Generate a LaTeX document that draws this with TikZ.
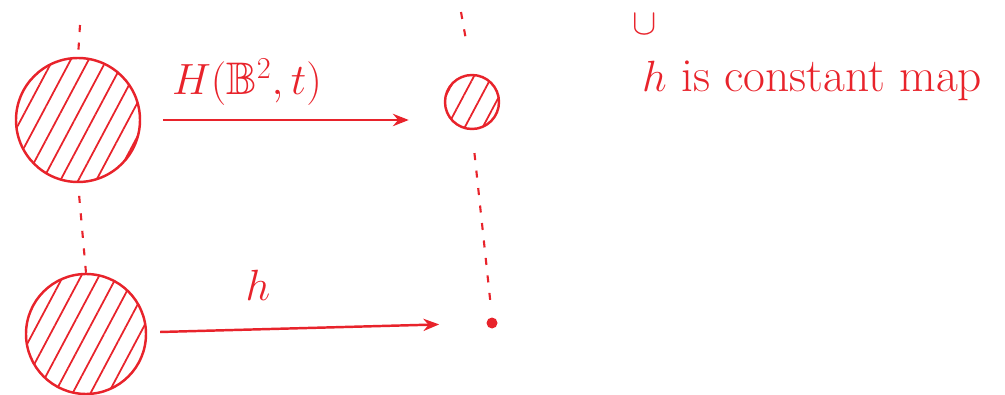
\documentclass[tikz,border=0pt]{standalone}
\usepackage{amsmath,amssymb}
\usetikzlibrary{arrows.meta,patterns.meta}
\definecolor{ink}{HTML}{E8232B}

\begin{document}
\begin{tikzpicture}[x=0.2mm,y=-0.2mm,
  ball/.style={circle,draw=ink,line width=1.4pt,inner sep=0pt,
    pattern={Lines[angle=62,distance=9pt,line width=1pt]},pattern color=ink},
  guide/.style={ink,line width=1.2pt,dash pattern=on 4pt off 6pt},
  maparrow/.style={ink,line width=1.4pt,-{Stealth[length=9pt,width=7pt]}}]
  \useasboundingbox (0,0) rectangle (1005,395);
  % the two balls on the left and their images
  \node[ball,minimum size=24.8mm] (bigtop) at (78,120) {};
  \node[ball,minimum size=24mm] (bigbot) at (86,334) {};
  \node[ball,minimum size=10.8mm] (small) at (472,102) {};
  \node[circle,fill=ink,inner sep=0pt,minimum size=2.2mm] (dot) at (492,323) {};
  % vertical guides
  \coordinate (topcap) at (80,25);
  \coordinate (smallcap) at (461,12);
  \draw[guide,shorten >=0.6mm] (topcap) -- (bigtop.north);
  \draw[guide,shorten <=2.6mm] (bigtop.south) -- (bigbot.north);
  \draw[guide,shorten >=6.6mm] (smallcap) -- (small.north);
  \draw[guide,shorten <=4.6mm,shorten >=2.6mm] (small.south) -- (dot.north);
  % maps
  \draw[maparrow,shorten <=4.4mm,shorten >=7mm] (bigtop.east) -- (bigtop.east -| small.west);
  \draw[maparrow,shorten <=2.6mm,shorten >=9.4mm] (bigbot) -- (dot);
  \node[ink,font=\fontsize{26}{30}\selectfont] (toplabel) at (247,82) {$H(\mathbb{B}^2,t)$};
  \node[ink,font=\fontsize{25}{30}\selectfont] (hlabel) at (258,285) {$h$};
  % remark
  \node[ink,font=\fontsize{20}{24}\selectfont,inner sep=0pt,anchor=base] (cupmark) at (645,35) {$\cup$};
  \node[ink,font=\fontsize{27}{32}\selectfont,anchor=base west] (remark) at (636,92) {$h$ is constant map};
\end{tikzpicture}
\end{document}
